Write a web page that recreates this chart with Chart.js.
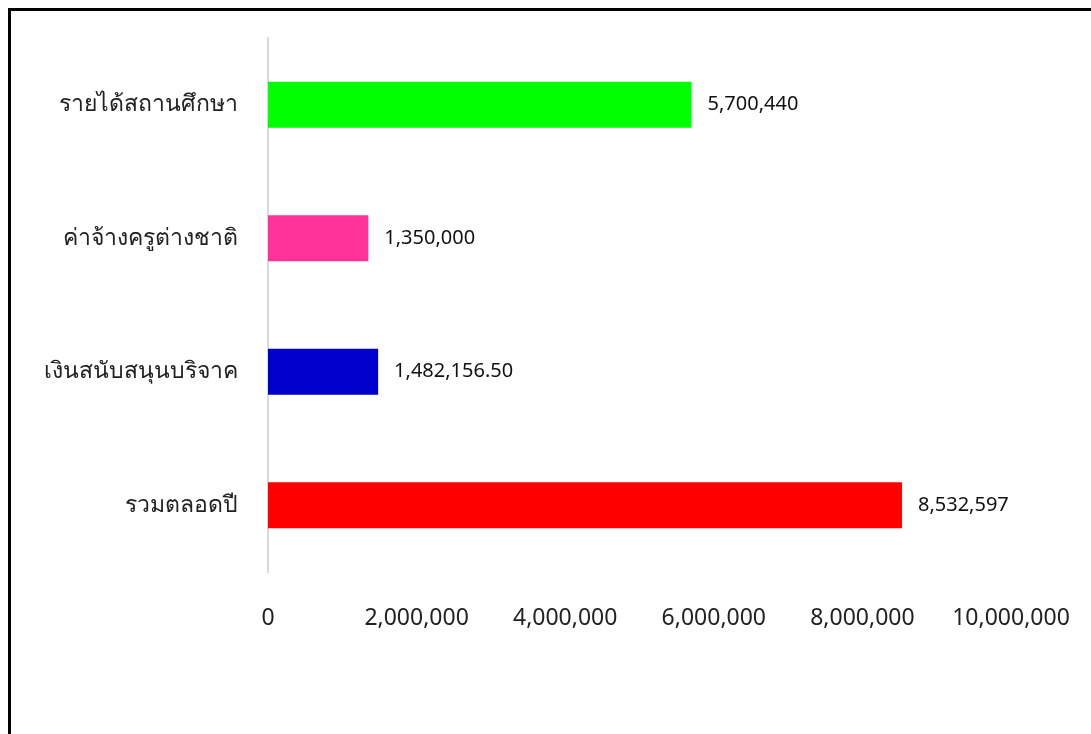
<!DOCTYPE html>
<html>
<head>
<meta charset="utf-8">
<script src="https://cdn.jsdelivr.net/npm/chart.js@4"></script>
<style>
  body { margin: 0; background: #fff; overflow: hidden; }
  .frame { position: absolute; left: 8px; top: 8px; width: 1200px; height: 900px; border: 3px solid #000; pointer-events: none; }
</style>
</head>
<body>
<canvas class="myChart" width="1091" height="734"></canvas>
<div class="frame"></div>
<script>
let chart = document.querySelector('.myChart').getContext('2d')

const labels = [
    'รายได้สถานศึกษา',
    'ค่าจ้างครูต่างชาติ',
    'เงินสนับสนุนบริจาค',
    'รวมตลอดปี'
]

const values = [5700440, 1350000, 1482156.50, 8532597]

const barColors = ['#00ff00', '#ff3399', '#0000cc', '#ff0000']

const xTicks = [0, 2000000, 4000000, 6000000, 8000000, 10000000]

const fontFamily = "'Noto Sans', 'Open Sans', sans-serif"

function fmt(v) {
    let decimals = Number.isInteger(v) ? 0 : 2
    return v.toLocaleString('en-US', { minimumFractionDigits: decimals, maximumFractionDigits: decimals })
}

// value labels at the end of each bar
const valueLabels = {
    id: 'valueLabels',
    afterDatasetsDraw(c) {
        let ctx = c.ctx
        let meta = c.getDatasetMeta(0)
        ctx.save()
        ctx.font = '20px ' + fontFamily
        ctx.fillStyle = '#111'
        ctx.textBaseline = 'middle'
        ctx.textAlign = 'left'
        meta.data.forEach((bar, i) => {
            ctx.fillText(fmt(values[i]), bar.x + 16, bar.y)
        })
        ctx.restore()
    }
}

const data = {
    labels,
    datasets: [{
        data: values,
        backgroundColor: barColors,
        categoryPercentage: 1,
        barPercentage: 0.346
    }]
}

const config = {
    type: 'bar',
    data: data,
    options: {
        indexAxis: 'y',
        responsive: false,
        animation: false,
        layout: { padding: { top: 38, right: 80, bottom: 0, left: 0 } },
        plugins: {
            legend: { display: false },
            tooltip: { enabled: false }
        },
        scales: {
            x: {
                min: 0,
                max: 10000000,
                afterBuildTicks: s => { s.ticks = xTicks.map(v => ({ value: v })) },
                afterFit: s => {
                    s.height = 162
                    s.paddingLeft = 0
                    s.paddingRight = 0
                },
                grid: { display: false },
                border: { display: false },
                ticks: {
                    padding: 25,
                    color: '#222',
                    font: { family: fontFamily, size: 23 },
                    callback: v => fmt(v)
                }
            },
            y: {
                afterFit: s => { s.width = 268 },
                grid: { display: false },
                border: { display: true, color: '#d9d9d9', width: 2 },
                ticks: {
                    padding: 22,
                    color: '#222',
                    font: { family: fontFamily, size: 23 }
                }
            }
        }
    },
    plugins: [valueLabels]
}

const myChart = new Chart(chart, config)
</script>
</body>
</html>
